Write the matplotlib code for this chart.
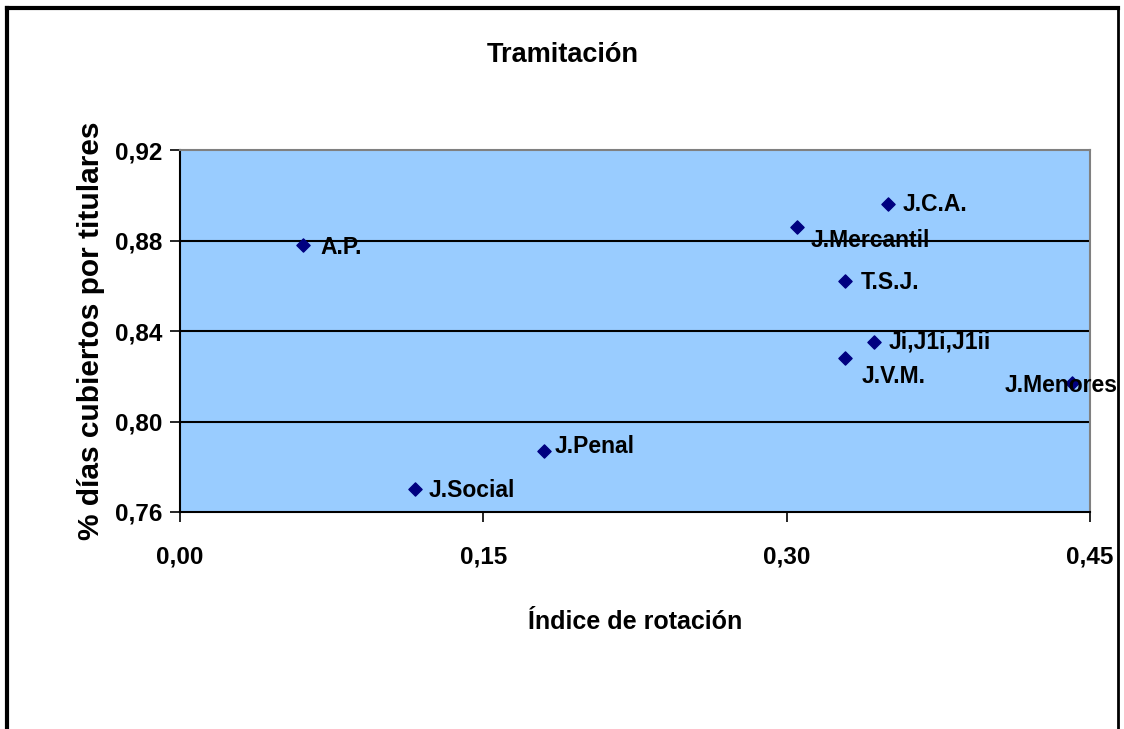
import matplotlib
matplotlib.use('Agg')
import matplotlib.pyplot as plt
from matplotlib.lines import Line2D
from matplotlib.ticker import FuncFormatter

plt.rcParams['font.family'] = ['Liberation Sans', 'DejaVu Sans']
plt.rcParams['font.weight'] = 'bold'

# datos
etiquetas = ['A.P.', 'J.Social', 'J.Penal', 'J.Mercantil', 'J.C.A.', 'T.S.J.',
             'Ji,J1i,J1ii', 'J.V.M.', 'J.Menores']
rotacion = [0.061, 0.116, 0.180, 0.305, 0.350, 0.329, 0.343, 0.329, 0.441]
titulares = [0.878, 0.770, 0.787, 0.886, 0.896, 0.862, 0.835, 0.828, 0.817]
# desplazamiento de etiquetas (pt)
offs = [(12, -2), (10, -1), (8, 3), (10, -10), (11, 0), (11, -1),
        (11, 0), (12, -13), (-48, -2)]

fig = plt.figure(figsize=(11.24, 7.29), dpi=100)
ax = fig.add_axes([180/1124, 1-512/729, 910/1124, 362/729])
ax.set_facecolor('#99CCFF')

ax.scatter(rotacion, titulares, marker='D', s=45, color='#000080', zorder=3)
for lab, xv, yv, (dx, dy) in zip(etiquetas, rotacion, titulares, offs):
    ax.annotate(lab, (xv, yv), xytext=(dx, dy), textcoords='offset points',
                fontsize=16.5, fontweight='bold', va='center', ha='left', zorder=4)

ax.set_xlim(0, 0.45)
ax.set_ylim(0.76, 0.92)
ax.set_xticks([0, 0.15, 0.30, 0.45])
ax.set_yticks([0.76, 0.80, 0.84, 0.88, 0.92])
fmt = FuncFormatter(lambda v, p: ('%.2f' % v).replace('.', ','))
ax.xaxis.set_major_formatter(fmt)
ax.yaxis.set_major_formatter(fmt)
ax.tick_params(axis='both', labelsize=17.5, direction='out', length=7, width=1.2)
ax.tick_params(axis='x', pad=17)
ax.tick_params(axis='y', pad=6)
for t in ax.get_xticklabels() + ax.get_yticklabels():
    t.set_fontweight('bold')

for yv in [0.80, 0.84, 0.88]:
    ax.axhline(yv, color='black', lw=1.5, zorder=1)

ax.spines['left'].set_color('black')
ax.spines['bottom'].set_color('black')
ax.spines['top'].set_color('#808080')
ax.spines['right'].set_color('#808080')
for s in ax.spines.values():
    s.set_linewidth(1.5)

ax.set_xlabel('Índice de rotación', fontsize=18, fontweight='bold', labelpad=30)
ax.set_ylabel('% días cubiertos por titulares', fontsize=21.5, fontweight='bold', labelpad=7)
fig.text(563/1124, 1-55/729, 'Tramitación', fontsize=19.5, fontweight='bold',
         ha='center', va='center')

# marco exterior
fig.add_artist(Line2D([7/1124, 7/1124], [0, 1-8/729], color='black', lw=3))
fig.add_artist(Line2D([7/1124, 1118/1124], [1-8/729, 1-8/729], color='black', lw=3))
fig.add_artist(Line2D([1118/1124, 1118/1124], [0, 1-8/729], color='black', lw=2))

fig.savefig('out.png', dpi=100)
